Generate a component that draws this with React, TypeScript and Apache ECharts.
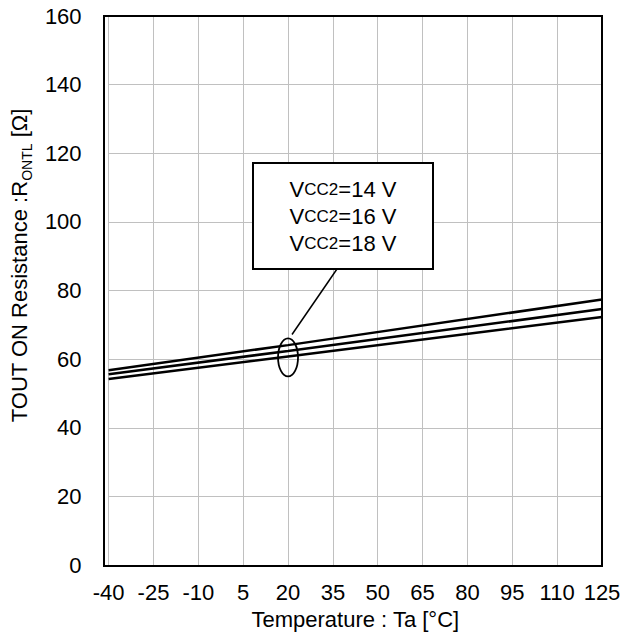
import React, { useEffect, useRef } from 'react';
import * as echarts from 'echarts';

// Temperatures (°C) at which the curves were read
const temperatures = [-40, 20, 125];
// Resistance values (Ω)
const vcc14 = [56.8, 64.1, 77.4];
const vcc16 = [55.6, 62.4, 74.6];
const vcc18 = [54.2, 60.8, 72.3];
const seriesNames = ['VCC2=14 V', 'VCC2=16 V', 'VCC2=18 V'];
const legendValues = ['14', '16', '18'];

// x axis ticks run -40..125 step 15; axis is shifted so ticks start at a multiple of the interval
const X_MIN = -40;
const X_MAX = 125;
const X_STEP = 15;
const Y_MIN = 0;
const Y_MAX = 160;
const Y_STEP = 20;

export default function App() {
  const ref = useRef<HTMLDivElement>(null);

  useEffect(() => {
    if (!ref.current) return;
    const chart = echarts.init(ref.current, null, { renderer: 'svg' });
    const font = '"Liberation Sans", Arial, sans-serif';
    const off = -X_MIN;
    const mk = (vals: number[]) => temperatures.map((t, i) => [t + off, vals[i]]);
    const series = [vcc14, vcc16, vcc18].map((vals, i) => ({
      name: seriesNames[i],
      type: 'line',
      data: mk(vals),
      showSymbol: false,
      symbol: 'none',
      lineStyle: { color: '#000', width: 2.5 },
      z: 3,
    }));

    const grid = { left: 104, top: 16, width: 498, height: 550 };

    chart.setOption({
      animation: false,
      grid: { ...grid, show: false },
      xAxis: {
        type: 'value',
        min: X_MIN + off,
        max: X_MAX + off,
        interval: X_STEP,
        axisLine: { show: false },
        axisTick: { show: false },
        splitLine: { show: true, lineStyle: { color: '#c0c0c0', width: 1 } },
        axisLabel: {
          formatter: (v: number) => String(v - off),
          fontSize: 22,
          color: '#000',
          fontFamily: font,
          margin: 16,
        },
        name: 'Temperature : Ta [°C]',
        nameLocation: 'middle',
        nameGap: 39,
        nameTextStyle: { fontSize: 22, color: '#000', fontFamily: font },
      },
      yAxis: {
        type: 'value',
        min: Y_MIN,
        max: Y_MAX,
        interval: Y_STEP,
        axisLine: { show: false },
        axisTick: { show: false },
        splitLine: { show: true, lineStyle: { color: '#c0c0c0', width: 1 } },
        axisLabel: { fontSize: 22, color: '#000', fontFamily: font, margin: 27 },
        name: '{m|TOUT ON Resistance :R}{s|ONTL}{m| [Ω]}',
        nameLocation: 'middle',
        nameGap: 67,
        nameRotate: 90,
        nameTextStyle: {
          fontSize: 22,
          color: '#000',
          fontFamily: font,
          padding: [0, 0, 0, 50],
          rich: {
            m: { fontSize: 22, color: '#000', fontFamily: font, lineHeight: 30, verticalAlign: 'middle' },
            s: { fontSize: 14, color: '#000', fontFamily: font, lineHeight: 14, verticalAlign: 'bottom' },
          },
        },
      },
      series,
    });

    const center = chart.convertToPixel({ gridIndex: 0 }, [20 + off, 60.5]) as number[];
    const boxX = 253, boxY = 163, boxW = 180, boxH = 106;
    const legendText = legendValues.map((v) => `{v|V}{s|CC2}{v|=${v} V}`).join('\n');

    chart.setOption({
      graphic: [
        {
          type: 'rect',
          shape: { x: grid.left, y: grid.top, width: grid.width, height: grid.height },
          style: { fill: 'none', stroke: '#000', lineWidth: 2 },
          z: 10,
        },
        {
          type: 'ellipse',
          shape: { cx: center[0], cy: center[1], rx: 10, ry: 19 },
          style: { fill: 'none', stroke: '#000', lineWidth: 1.8 },
          z: 10,
        },
        {
          type: 'line',
          shape: { x1: center[0] + 4, y1: center[1] - 23, x2: 337, y2: boxY + boxH },
          style: { stroke: '#000', lineWidth: 1.5 },
          z: 10,
        },
        {
          type: 'rect',
          shape: { x: boxX, y: boxY, width: boxW, height: boxH },
          style: { fill: '#fff', stroke: '#000', lineWidth: 2 },
          z: 11,
        },
        {
          type: 'text',
          x: boxX + boxW / 2,
          y: boxY + boxH / 2,
          z: 12,
          style: {
            text: legendText,
            align: 'center',
            verticalAlign: 'middle',
            fill: '#000',
            font: `22px ${font}`,
            rich: {
              v: { fontSize: 22, fontFamily: font, fill: '#000', lineHeight: 27 },
              s: { fontSize: 17, fontFamily: font, fill: '#000', lineHeight: 27 },
            },
          },
        },
      ],
    });

    return () => chart.dispose();
  }, []);

  return (
    <div
      ref={ref}
      style={{ position: 'absolute', left: 0, top: 0, width: 630, height: 635 }}
    />
  );
}
